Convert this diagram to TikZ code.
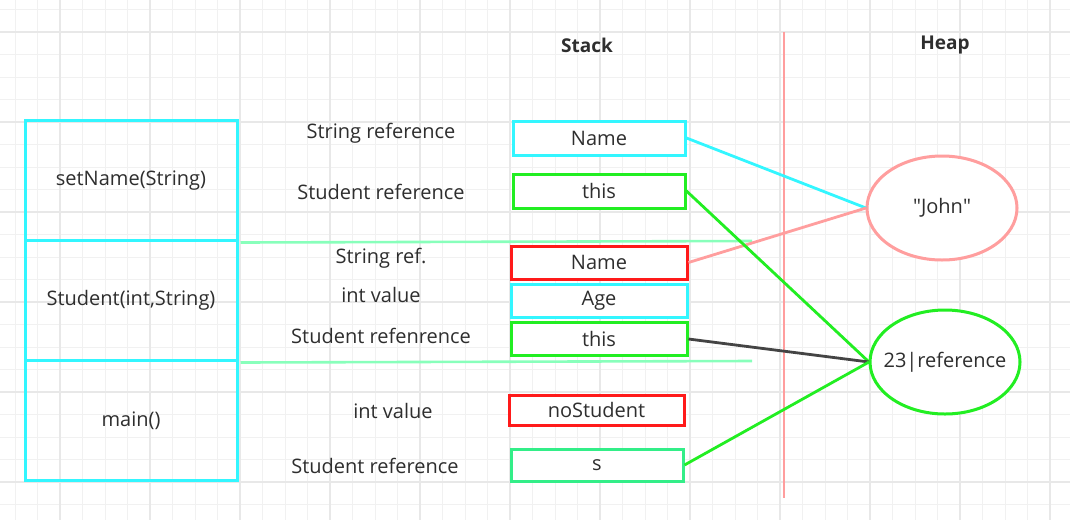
\documentclass[tikz,border=0pt]{standalone}
\usepackage{fontspec}
\setmainfont{Open Sans}
\def\dq{\XeTeXglyph\XeTeXcharglyph"22 }
\definecolor{txt}{HTML}{2E2E2E}
\definecolor{cy}{HTML}{33F6FF}
\definecolor{gr}{HTML}{22EE22}
\definecolor{rd}{HTML}{FF1A1A}
\definecolor{tl}{HTML}{33EE88}
\definecolor{pk}{HTML}{FF9E9E}
\definecolor{lg}{HTML}{88FFBB}
\definecolor{dk}{HTML}{444444}
\definecolor{gmin}{HTML}{F1F1F1}
\definecolor{gmaj}{HTML}{E8E8E8}
\tikzset{
  lbl/.style={text=txt, font=\fontsize{20}{24}\selectfont, inner sep=0pt},
  hdr/.style={text=txt, font=\fontsize{19}{22}\selectfont\bfseries, inner sep=0pt},
  cell/.style={draw=#1, line width=3pt, rectangle, inner sep=0pt, fill=white,
     text=txt, font=\fontsize{20}{24}\selectfont},
  frame/.style={draw=cy, line width=3pt, rectangle, inner sep=0pt,
     text=txt, font=\fontsize{20}{24}\selectfont, minimum width=212pt, minimum height=120pt},
  obj/.style={draw=#1, line width=3pt, ellipse, inner sep=0pt, fill=white,
     minimum width=150pt, minimum height=104pt},
  link/.style={draw=#1, line width=2.8pt},
}
\usetikzlibrary{shapes.geometric}
\begin{document}
\begin{tikzpicture}[x=1pt,y=-1pt]
\useasboundingbox (0,0) rectangle (1070,520);
\fill[white] (0,0) rectangle (1070,520);
% grid
\foreach \i in {0,...,47} {\draw[gmin, line width=1pt] ({15+22.5*\i},0) -- ({15+22.5*\i},520);}
\foreach \i in {0,...,23} {\draw[gmin, line width=1pt] (0,{9.5+22.5*\i}) -- (1070,{9.5+22.5*\i});}
\foreach \i in {0,...,11} {\draw[gmaj, line width=1.2pt] ({60+90*\i},0) -- ({60+90*\i},520);}
\foreach \i in {0,...,5} {\draw[gmaj, line width=1.2pt] (0,{32+90*\i}) -- (1070,{32+90*\i});}

% headers
\node[hdr] (stack) at (587,45) {Stack};
\node[hdr] (heap) at (945,45) {Heap};

% divider
\coordinate (vt) at (784,32);
\coordinate (vb) at (784,498);
\draw[pk, line width=2.6pt] (vt) -- (vb);

% frames
\node[frame] (f1) at (131,180.5) {setName(String)};
\node[frame] (f2) at (131,300.5) {Student(int,String)};
\node[frame] (f3) at (131,420.5) {main()};

% frame separators
\coordinate (s1e) at (752,241);
\coordinate (s2e) at (752,361);
\draw[lg, line width=2.6pt] (f1.south east) ++(2,0.5) coordinate (s1s) -- (s1e);
\draw[lg, line width=2.6pt] (f2.south east) ++(2,0.5) coordinate (s2s) -- (s2e);

% labels
\node[lbl] (l1) at (381,133) {String reference};
\node[lbl] (l2) at (381,192) {Student reference};
\node[lbl] (l3) at (381,258) {String ref.};
\node[lbl] (l4) at (381,295) {int value};
\node[lbl] (l5) at (381,336) {Student refenrence};
\node[lbl] (l6) at (393,411) {int value};
\node[lbl] (l7) at (375,466) {Student reference};

% heap objects
\node[obj=pk] (john) at (942,208) {};
\node[lbl] (johnt) at (john.center) {\dq John\dq};
\node[obj=gr] (ref) at (945,362) {};
\node[lbl] (reft) at (ref.center) {23|reference};

% links
\coordinate (jin) at (866,208);
\coordinate (rin) at (869,362);

% stack cells
\node[cell=cy, minimum width=172pt, minimum height=34pt] (nameA) at (599,138) {Name};
\node[cell=gr, minimum width=172pt, minimum height=34pt] (thisA) at (599,191) {this};
\node[cell=rd, minimum width=176pt, minimum height=33pt] (nameB) at (599,262.5) {Name};
\node[cell=cy, minimum width=176pt, minimum height=33pt] (age) at (599,300.5) {Age};
\node[cell=gr, minimum width=176pt, minimum height=33pt] (thisB) at (599,339) {this};
\node[cell=rd, minimum width=175pt, minimum height=30pt] (nost) at (596.5,410) {noStudent};
\node[cell=tl, minimum width=172pt, minimum height=32pt] (s) at (597,465) {s};

\draw[link=cy] (nameA.east) -- (jin);
\draw[link=pk] (nameB.east) -- (jin);
\draw[link=gr] (thisA.east) -- (rin);
\draw[link=dk] (thisB.east) -- (rin);
\draw[link=gr] (s.east) -- (rin);
\end{tikzpicture}
\end{document}
